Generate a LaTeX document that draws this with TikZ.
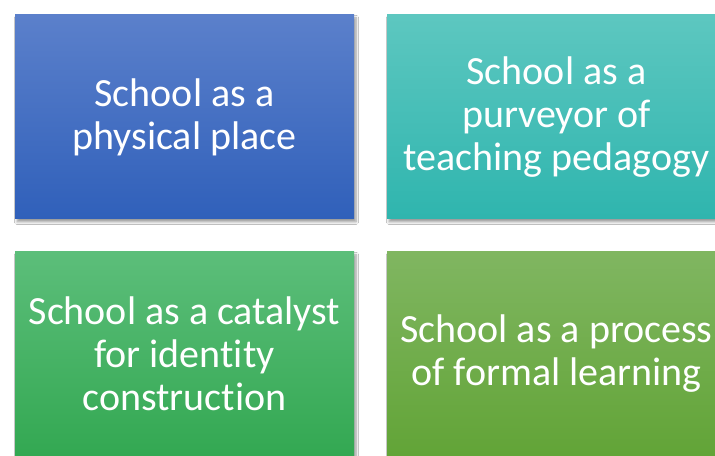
\documentclass[tikz,border=0pt]{standalone}
\usepackage{fontspec}
\setmainfont[Ligatures=NoCommon]{Carlito}
\usetikzlibrary{shadows.blur}

\definecolor{blueT}{HTML}{5B80CB}
\definecolor{blueB}{HTML}{3060BA}
\definecolor{tealT}{HTML}{5DC7C0}
\definecolor{tealB}{HTML}{2FB5AE}
\definecolor{greenT}{HTML}{5CBE7A}
\definecolor{greenB}{HTML}{33A852}
\definecolor{limeT}{HTML}{80B661}
\definecolor{limeB}{HTML}{62A437}

\begin{document}
\begin{tikzpicture}[x=0.75pt,y=0.75pt,
  every node/.style={minimum width=254.25pt,minimum height=153pt,inner sep=0pt,
    align=center,text=white,font=\fontsize{30}{32.3}\selectfont},
  tile/.style={top color=#1T,bottom color=#1B,
    blur shadow={shadow xshift=1.5pt,shadow yshift=-2.2pt,shadow blur steps=6,shadow opacity=40}}]
\useasboundingbox (0,0) rectangle (715,456);
\clip (0,0) rectangle (715,456);
\fill[white] (0,0) rectangle (715,456);
\foreach \i/\x/\y/\c/\t in {1/184.5/339/blue/{School as a\\physical place},
    2/556.5/339/teal/{School as a\\purveyor of\\teaching pedagogy},
    3/184.5/102/green/{School as a catalyst\\for identity\\construction},
    4/556.5/102/lime/{School as a process\\of formal learning}}
  \node[tile=\c] (s\i) at (\x,\y) {\t};
\end{tikzpicture}
\end{document}
